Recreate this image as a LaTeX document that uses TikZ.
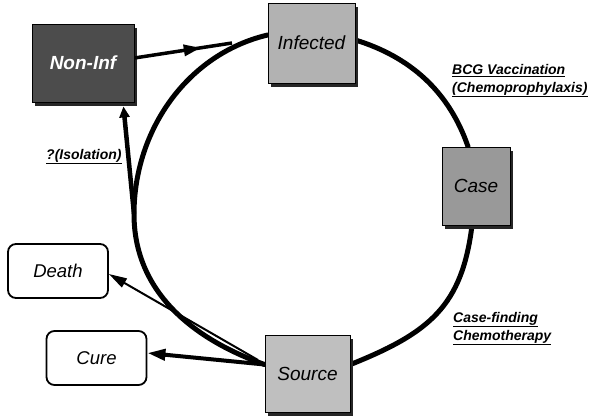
\documentclass[tikz,border=0pt]{standalone}
\usepackage{fontspec}
\setmainfont{Liberation Sans}
\usetikzlibrary{arrows.meta,shadows,decorations.markings,calc,backgrounds}
\begin{document}
\begin{tikzpicture}[x=1pt,y=-1pt,
  stagebox/.style={draw=black, line width=0.9pt, inner sep=0pt,
    font=\fontsize{19}{22}\selectfont\itshape,
    general shadow={fill=black!85, shadow xshift=3pt, shadow yshift=-4pt}},
  outcome/.style={draw=black, line width=1.8pt, rounded corners=8pt, fill=white,
    minimum width=100pt, minimum height=54pt, inner sep=0pt,
    font=\fontsize{18.5}{22}\selectfont\itshape},
  lab/.style={font=\fontsize{14}{18}\selectfont\bfseries\itshape, align=left, inner sep=0pt},
  cyc/.style={line width=5pt, line cap=round},
]
\useasboundingbox (0,0) rectangle (600,418);

% coordinates on the cycle
\coordinate (lft) at (134,214);
\coordinate (niend) at (232,43);
\coordinate (dstart) at (258,360);

% boxes
\node[stagebox, fill=black!70, minimum width=102pt, minimum height=78pt,
      font=\fontsize{19}{22}\selectfont\bfseries\itshape\color{white}] (nonin) at (83,63) {Non-Inf};
\node[stagebox, fill=black!30, minimum width=87pt, minimum height=80pt] (inf) at (311.5,43) {Infected};
\node[stagebox, fill=black!40, minimum width=68pt, minimum height=78pt] (case) at (476,186) {Case};
\node[stagebox, fill=black!25, minimum width=85pt, minimum height=77pt] (src) at (307.5,373.5) {Source};
\node[outcome] (death) at (58,271) {Death};
\node[outcome] (cure) at (96.5,358) {Cure};

% cycle arcs and arrows, behind the boxes
\begin{scope}[on background layer]
\draw[cyc] ([yshift=3pt]inf.east) .. controls +(55,17) and +(-19,-55) .. ([xshift=-8pt]case.north);
\draw[cyc] ([xshift=-4pt]case.south) .. controls +(-10,80) and +(80,-32) .. ([yshift=9pt]src.east);
\draw[cyc] ([yshift=9pt]src.west) .. controls +(-73,-26) and +(0,77) .. (lft)
           .. controls +(0,-84) and +(-80,19) .. ([yshift=8pt]inf.west);
\end{scope}

% arrows
\draw[line width=3.5pt, postaction={decorate},
      decoration={markings, mark=at position 0.68 with {\arrow{Triangle[length=17pt,width=11pt]}}}]
      ([yshift=5pt]nonin.east) -- (niend);
\draw[line width=4.5pt, -{Triangle[length=11pt,width=10pt]}] (lft) -- ([xshift=-11pt,yshift=-4pt]nonin.south east);
\draw[line width=2pt, -{Triangle[length=18pt,width=10pt]}] (dstart) -- ([yshift=-3pt]death.east);
\draw[line width=4pt, -{Triangle[length=18pt,width=11pt]}] ([yshift=9pt]src.west) -- ([yshift=5pt]cure.east);

% labels
\node[lab, anchor=north west] (bcg) at (452,64) {\underline{BCG Vaccination}\\\underline{(Chemoprophylaxis)}};
\node[lab, anchor=base west] (iso) at (46,159) {\underline{?(Isolation)}};
\node[lab, anchor=north west] (cf) at (453,312) {\underline{Case-finding}\\\underline{Chemotherapy}};
\end{tikzpicture}
\end{document}
